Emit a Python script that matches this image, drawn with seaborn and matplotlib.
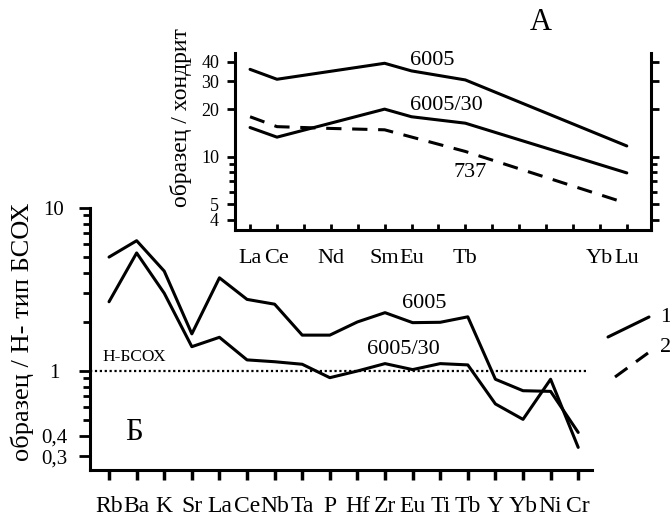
import numpy as np
import pandas as pd
import matplotlib
matplotlib.use("Agg")
import matplotlib.pyplot as plt
from matplotlib.lines import Line2D
from matplotlib.ticker import FixedLocator, FixedFormatter, NullFormatter
import seaborn as sns

# ---------------- data ----------------
# Spider diagram (Б): sample / N-MORB
spider_elements = ["Rb", "Ba", "K", "Sr", "La", "Ce", "Nb", "Ta", "P", "Hf",
                   "Zr", "Eu", "Ti", "Tb", "Y", "Yb", "Ni", "Cr"]
spider_6005 = [5.0, 6.3, 4.1, 1.69, 3.73, 2.75, 2.57, 1.66, 1.66, 2.0,
               2.28, 1.98, 1.99, 2.15, 0.89, 0.757, 0.75, 0.42]
spider_6005_30 = [2.66, 5.3, 3.0, 1.41, 1.61, 1.17, 1.14, 1.10, 0.91, 1.0,
                  1.11, 1.02, 1.11, 1.09, 0.628, 0.505, 0.89, 0.34]

# REE diagram (A): sample / chondrite
ree_axis = ["La", "Ce", "Pr", "Nd", "Pm", "Sm", "Eu", "Gd", "Tb", "Dy",
            "Ho", "Er", "Tm", "Yb", "Lu"]
ree_axis_labels = ["La", "Ce", "", "Nd", "", "Sm", "Eu", "", "Tb", "",
                   "", "", "", "Yb", "Lu"]
ree_6005_el = ["La", "Ce", "Sm", "Eu", "Tb", "Lu"]
ree_6005 = [35.7, 30.9, 39.0, 34.9, 30.6, 11.7]
ree_6005_30_el = ["La", "Ce", "Sm", "Eu", "Tb", "Lu"]
ree_6005_30 = [15.3, 13.3, 20.0, 17.9, 16.3, 7.9]
ree_737_el = ["La", "Ce", "Nd", "Sm", "Tb", "Lu"]
ree_737 = [17.9, 15.5, 15.1, 14.8, 10.8, 5.07]

# ---------------- style ----------------
sns.set_theme(style="ticks")
plt.rcParams["font.family"] = ["Liberation Serif", "DejaVu Serif"]
plt.rcParams["axes.linewidth"] = 2.2
plt.rcParams["axes.edgecolor"] = "black"
plt.rcParams["xtick.color"] = "black"
plt.rcParams["ytick.color"] = "black"
plt.rcParams["text.color"] = "black"

W, H = 670, 518
fig = plt.figure(figsize=(W / 100, H / 100), dpi=100)


def fr(px_left, px_top, px_right, px_bottom):
    return [px_left / W, 1 - px_bottom / H, (px_right - px_left) / W,
            (px_bottom - px_top) / H]


LW = 2.2

# ---------------- main axes (Б) ----------------
ax = fig.add_axes(fr(90, 208, 592, 470))
ax.set_yscale("log")
pos_spider = {e: i for i, e in enumerate(spider_elements)}
df_sp = pd.DataFrame({
    "x": [pos_spider[e] for e in spider_elements] * 2,
    "v": spider_6005 + spider_6005_30,
    "s": ["6005"] * len(spider_elements) + ["6005/30"] * len(spider_elements),
})
sns.lineplot(data=df_sp, x="x", y="v", hue="s", palette=["black", "black"],
             sort=False, lw=LW, legend=False, ax=ax, estimator=None)
ax.axhline(1.0, xmin=0, xmax=(17.35 + 0.69) / (17.5 + 0.69), color="black",
           ls=(0, (1, 1.2)), lw=1.6)
ax.set_xlim(-0.69, 17.5)
ax.set_ylim(0.247, 10)
ax.xaxis.set_major_locator(FixedLocator(range(len(spider_elements))))
ax.set_xticklabels(spider_elements, fontsize=17)
ax.yaxis.set_major_locator(FixedLocator([0.3, 0.4, 1, 10]))
ax.yaxis.set_major_formatter(FixedFormatter(["0,3", "0,4", "1", "10"]))
ax.yaxis.set_minor_locator(FixedLocator([0.5, 0.6, 0.7, 0.8, 0.9,
                                         2, 3, 4, 5, 6, 7, 8, 9]))
ax.yaxis.set_minor_formatter(NullFormatter())
ax.tick_params(axis="y", which="major", direction="out", length=8, width=2,
               labelsize=15, pad=18)
ax.tick_params(axis="y", which="minor", direction="out", length=5, width=2)
ax.tick_params(axis="x", which="major", direction="out", length=7, width=2.5,
               labelsize=17, pad=12)
for lab in ax.get_yticklabels():
    lab.set_horizontalalignment("center")
ax.spines["top"].set_visible(False)
ax.spines["right"].set_visible(False)
ax.set_xlabel("")
ax.set_ylabel("")
ax.patch.set_alpha(0)

ax.text(-0.25, 1.22, "Н-БСОХ", fontsize=12.5, ha="left", va="center")
ax.text(0.9, 0.42, "Б", fontsize=22, ha="center", va="center")
ax.text(11.41, 2.61, "6005", fontsize=16, ha="center", va="center")
ax.text(10.65, 1.346, "6005/30", fontsize=16, ha="center", va="center")

fig.text(22 / W, 1 - 332 / H, "образец / Н- тип БСОХ", rotation=90,
         fontsize=19, ha="center", va="center")

# ---------------- inset axes (A) ----------------
ax2 = fig.add_axes(fr(235, 53, 651, 230))
ax2.set_yscale("log")
pos_ree = {e: i for i, e in enumerate(ree_axis)}
series = [("6005", ree_6005_el, ree_6005, "-"),
          ("6005/30", ree_6005_30_el, ree_6005_30, "-"),
          ("737", ree_737_el, ree_737, "--")]
for name, els, vals, ls in series:
    d = pd.DataFrame({"x": [pos_ree[e] for e in els], "v": vals})
    sns.lineplot(data=d, x="x", y="v", color="black", lw=LW, ls=ls,
                 sort=False, estimator=None, ax=ax2)
for l in ax2.get_lines()[2:]:
    l.set_dashes((5, 3.5))
ax2.set_xlim(-0.56, 14.9)
ax2.set_ylim(3.44, 45.3)
ax2.xaxis.set_major_locator(FixedLocator(range(len(ree_axis))))
ax2.set_xticklabels(ree_axis_labels, fontsize=16)
ax2.yaxis.set_major_locator(FixedLocator([4, 5, 10, 20, 30, 40]))
ax2.yaxis.set_major_formatter(FixedFormatter(["4", "5", "10", "20", "30", "40"]))
ax2.yaxis.set_minor_locator(FixedLocator([6, 7, 8, 9]))
ax2.yaxis.set_minor_formatter(NullFormatter())
ax2.tick_params(axis="y", which="both", direction="out", right=True,
                labelright=False)
ax2.tick_params(axis="y", which="major", length=6, width=2, labelsize=13,
                pad=5.5)
ax2.tick_params(axis="y", which="minor", length=4, width=2)
ax2.tick_params(axis="x", which="major", direction="in", length=4, width=2,
                labelsize=16, pad=14)
ax2.spines["top"].set_visible(False)
ax2.set_xlabel("")
ax2.set_ylabel("")
ax2.patch.set_alpha(0)

ax2.text(6.77, 40.9, "6005", fontsize=16, ha="center", va="center")
ax2.text(7.29, 21.2, "6005/30", fontsize=16, ha="center", va="center")
ax2.text(8.18, 8.0, "737", fontsize=16, ha="center", va="center")
fig.text(541 / W, 1 - 23 / H, "A", fontsize=22, ha="center", va="center")
fig.text(181 / W, 1 - 118 / H, "образец / хондрит", rotation=90,
         fontsize=17, ha="center", va="center")

# ---------------- legend (diagonal line samples) ----------------
fig.add_artist(Line2D([608 / W, 649 / W], [1 - 337 / H, 1 - 317 / H],
                      transform=fig.transFigure, color="black", lw=LW))
fig.add_artist(Line2D([615 / W, 648 / W], [1 - 377 / H, 1 - 353 / H],
                      transform=fig.transFigure, color="black", lw=LW,
                      dashes=(5, 3.5)))
fig.text(660 / W, 1 - 318 / H, "1", fontsize=16, ha="left", va="center")
fig.text(660 / W, 1 - 347 / H, "2", fontsize=16, ha="left", va="center")

fig.savefig("out.png", dpi=100, facecolor="white")
